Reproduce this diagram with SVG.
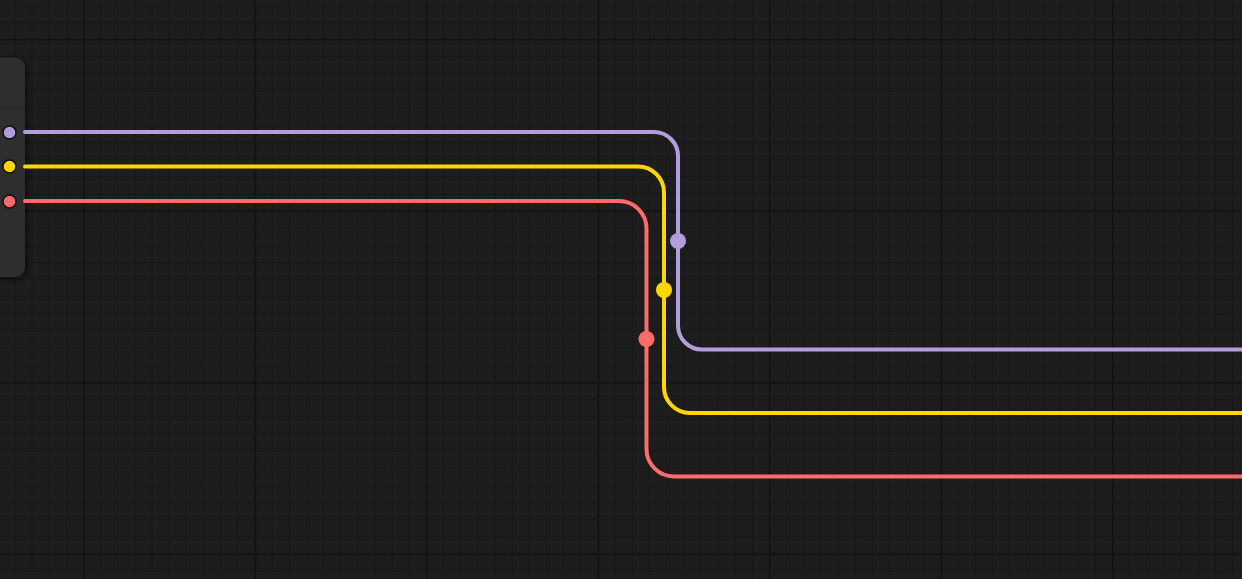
<svg xmlns="http://www.w3.org/2000/svg" width="1242" height="579" viewBox="0 0 1242 579">
  <defs>
    <!-- canvas grid: fine cells every 17.15px, heavier lines every 10 cells -->
    <pattern id="grid-minor" x="83" y="39" width="17.15" height="17.15" patternUnits="userSpaceOnUse">
      <path d="M0 0 H17.15 M0 0 V17.15" fill="none" stroke="#161616" stroke-width="2"/>
    </pattern>
    <pattern id="grid-major" x="83" y="39" width="171.5" height="171.5" patternUnits="userSpaceOnUse">
      <path d="M0 0 H171.5 M0 0 V171.5" fill="none" stroke="#111111" stroke-width="3"/>
    </pattern>
    <filter id="node-shadow" x="-50%" y="-20%" width="200%" height="140%">
      <feDropShadow dx="2" dy="2" stdDeviation="3" flood-color="#000" flood-opacity="0.6"/>
    </filter>
  </defs>
  <style>
    .wire { fill: none; stroke-width: 4; stroke-linecap: round; }
    .port { stroke: #111; stroke-width: 1.5; }
    .purple { stroke: #b39ddb; }
    .yellow { stroke: #ffd600; }
    .red { stroke: #ff6b6b; }
    .dot-purple { fill: #b39ddb; }
    .dot-yellow { fill: #ffd600; }
    .dot-red { fill: #ff6b6b; }
  </style>

  <rect width="1242" height="579" fill="#1d1d1d"/>
  <rect width="1242" height="579" fill="url(#grid-minor)"/>
  <rect width="1242" height="579" fill="url(#grid-major)"/>

  <!-- source node, partially off-canvas on the left -->
  <g id="node-source">
    <rect x="-30" y="57.5" width="55" height="219.5" rx="10" fill="#2f2f2f" filter="url(#node-shadow)"/>
    <line x1="-30" y1="108.5" x2="25" y2="108.5" stroke="#262626" stroke-width="1.5"/>
  </g>

  <!-- connectors -->
  <g id="connectors">
    <path class="wire purple" d="M25 132 H654 A24 24 0 0 1 678 156 V325.5 A24 24 0 0 0 702 349.5 H1242"/>
    <path class="wire yellow" d="M25 166.5 H638 A26 26 0 0 1 664 192.5 V387 A26 26 0 0 0 690 413 H1242"/>
    <path class="wire red" d="M25 201 H619 A27.5 27.5 0 0 1 646.5 228.5 V449 A27.5 27.5 0 0 0 674 476.5 H1242"/>
    <circle class="dot-purple" cx="678" cy="241" r="8"/>
    <circle class="dot-yellow" cx="664" cy="290" r="8"/>
    <circle class="dot-red" cx="646.5" cy="339" r="8"/>
  </g>

  <!-- output ports -->
  <g id="ports">
    <circle class="port dot-purple" cx="9.5" cy="132.5" r="6.5"/>
    <circle class="port dot-yellow" cx="9.5" cy="166.5" r="6.5"/>
    <circle class="port dot-red" cx="9.5" cy="201.5" r="6.5"/>
  </g>
</svg>
